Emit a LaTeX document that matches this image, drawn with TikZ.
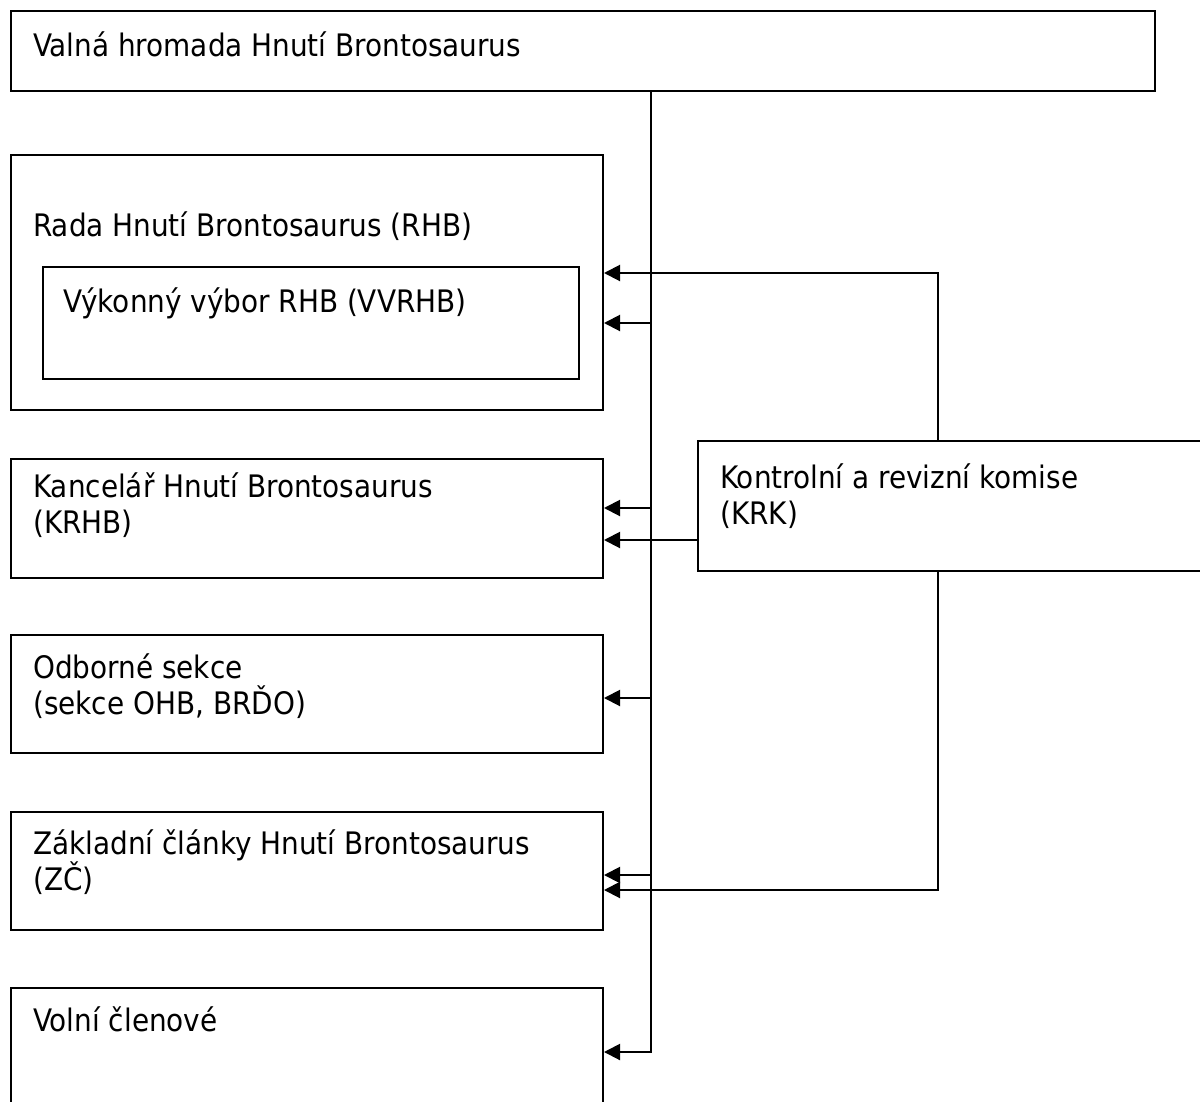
\documentclass[tikz,border=0pt]{standalone}
\usepackage{fontspec}
\setmainfont{DejaVu Sans Condensed}
\usetikzlibrary{arrows.meta}
\begin{document}
\begin{tikzpicture}[x=1pt,y=-1pt,
  box/.style={draw, line width=2pt, inner sep=0pt},
  lbl/.style={anchor=base west, inner sep=0pt, align=left, font=\fontsize{31}{36}\selectfont},
  arr/.style={line width=2pt, -{Triangle[length=16pt,width=16pt]}}]
\useasboundingbox (0,0) rectangle (1200,1101);
% boxes
\node[box, minimum width=1144pt, minimum height=80pt] (vh) at (583,51) {};
\node[box, minimum width=592pt, minimum height=255pt] (rhb) at (307,282.5) {};
\node[box, minimum width=536pt, minimum height=112pt] (vv) at (311,323) {};
\node[box, minimum width=592pt, minimum height=119pt] (kan) at (307,518.5) {};
\node[box, minimum width=592pt, minimum height=118pt] (odb) at (307,694) {};
\node[box, minimum width=592pt, minimum height=118pt] (zc) at (307,871) {};
\node[box, minimum width=592pt, minimum height=130pt] (vol) at (307,1053) {};
\node[box, minimum width=520pt, minimum height=130pt] (krk) at (958,506) {};
% labels (multi-line labels are placed at the baseline of their last line)
\node[lbl] (vhT) at (33,56) {Valná hromada Hnutí Brontosaurus};
\node[lbl] (rhbT) at (33,236) {Rada Hnutí Brontosaurus (RHB)};
\node[lbl] (vvT) at (63,312) {Výkonný výbor RHB (VVRHB)};
\node[lbl] (kanT) at (33,533) {Kancelář Hnutí Brontosaurus\\(KRHB)};
\node[lbl] (odbT) at (33,714) {Odborné sekce\\(sekce OHB, BRĎO)};
\node[lbl] (zcT) at (33,890) {Základní články Hnutí Brontosaurus\\(ZČ)};
\node[lbl] (volT) at (33,1031) {Volní členové};
\node[lbl] (krkT) at (720,524) {Kontrolní a revizní komise\\(KRK)};
% trunk from Valná hromada
\coordinate (t0) at (651,91);
\coordinate (t1) at (651,323);
\coordinate (t2) at (651,508);
\coordinate (t3) at (651,698);
\coordinate (t4) at (651,875);
\coordinate (t5) at (651,1052);
\draw[arr] (vh.south -| t0) -- (t5) -- (t5 -| vol.east);
\draw[arr] (t1) -- (t1 -| rhb.east);
\draw[arr] (t2) -- (t2 -| kan.east);
\draw[arr] (t3) -- (t3 -| odb.east);
\draw[arr] (t4) -- (t4 -| zc.east);
% KRK connections
\coordinate (k1) at (938,273);
\coordinate (k2) at (938,890);
\coordinate (k3) at (698,540);
\draw[arr] (krk.north -| k1) -- (k1) -- (k1 -| rhb.east);
\draw[arr] (k3) -- (k3 -| kan.east);
\draw[arr] (krk.south -| k2) -- (k2) -- (k2 -| zc.east);
\end{tikzpicture}
\end{document}
